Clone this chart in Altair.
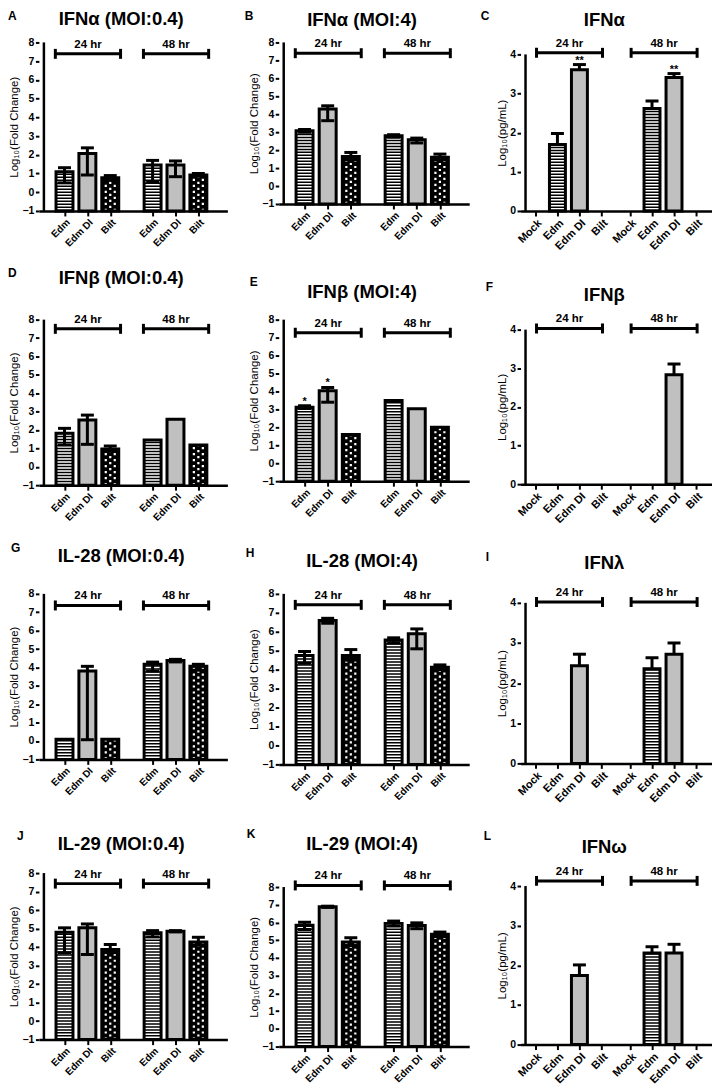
import altair as alt
import pandas as pd

FOLD_CATS = ["Edm", "Edm DI", "Bilt"]
PG_CATS = ["Mock", "Edm", "Edm DI", "Bilt"]
TIMES = ["24 hr", "48 hr"]
N = None

# values: 24 hr group then 48 hr group
A_val = [1.10, 2.07, 0.78, 1.45, 1.45, 0.92]
A_hi = [1.31, 2.37, 0.89, 1.70, 1.67, 1.00]
A_lo = [0.50, 0.92, 0.65, 0.57, 0.83, 0.85]

B_val = [3.08, 4.29, 1.65, 2.80, 2.58, 1.60]
B_hi = [3.15, 4.47, 1.87, 2.86, 2.67, 1.78]
B_lo = [3.00, 3.64, 1.45, 2.72, 2.40, 1.45]

C_val = [0, 1.70, 3.61, 0, 0, 2.62, 3.41, 0]
C_hi = [N, 1.98, 3.74, N, N, 2.81, 3.51, N]
C_star = ["", "", "**", "", "", "", "**", ""]

D_val = [1.82, 2.54, 0.97, 1.46, 2.58, 1.19]
D_hi = [2.09, 2.81, 1.13, N, N, N]
D_lo = [1.19, 1.22, 0.85, N, N, N]

E_val = [3.12, 4.04, 1.60, 3.49, 3.03, 2.01]
E_hi = [3.20, 4.22, N, N, N, N]
E_lo = [3.05, 3.40, N, N, N, N]
E_star = ["*", "*", "", "", "", ""]

F_val = [0, 0, 0, 0, 0, 0, 2.83, 0]
F_hi = [N, N, N, N, N, N, 3.11, N]

G_val = [0.09, 3.80, 0.09, 4.17, 4.38, 4.06]
G_hi = [N, 4.06, N, 4.29, 4.44, 4.17]
G_lo = [N, 0.07, N, 3.80, 4.30, 3.85]

H_val = [4.75, 6.59, 4.75, 5.57, 5.89, 4.13]
H_hi = [4.96, 6.71, 5.06, 5.68, 6.15, 4.25]
H_lo = [4.34, 6.45, 4.50, 5.40, 5.10, 4.00]

I_val = [0, 0, 2.43, 0, 0, 2.36, 2.72, 0]
I_hi = [N, N, 2.72, N, N, 2.63, 3.00, N]

J_val = [4.80, 5.04, 3.87, 4.77, 4.86, 4.28]
J_hi = [5.04, 5.25, 4.14, 4.89, 4.89, 4.53]
J_lo = [3.69, 3.60, 3.70, 4.55, 4.82, 4.10]

K_val = [5.85, 6.89, 4.90, 5.95, 5.83, 5.33]
K_hi = [6.02, 6.92, 5.14, 6.08, 5.98, 5.46]
K_lo = [5.60, 6.85, 4.70, 5.80, 5.65, 5.20]

L_val = [0, 0, 1.74, 0, 0, 2.31, 2.31, 0]
L_hi = [N, N, 2.01, N, N, 2.47, 2.53, N]

PANELS = [
    ("A", "IFNα (MOI:0.4)", "fold", A_val, A_hi, A_lo, None),
    ("B", "IFNα (MOI:4)", "fold", B_val, B_hi, B_lo, None),
    ("C", "IFNα", "pg", C_val, C_hi, None, C_star),
    ("D", "IFNβ (MOI:0.4)", "fold", D_val, D_hi, D_lo, None),
    ("E", "IFNβ (MOI:4)", "fold", E_val, E_hi, E_lo, E_star),
    ("F", "IFNβ", "pg", F_val, F_hi, None, None),
    ("G", "IL-28 (MOI:0.4)", "fold", G_val, G_hi, G_lo, None),
    ("H", "IL-28 (MOI:4)", "fold", H_val, H_hi, H_lo, None),
    ("I", "IFNλ", "pg", I_val, I_hi, None, None),
    ("J", "IL-29 (MOI:0.4)", "fold", J_val, J_hi, J_lo, None),
    ("K", "IL-29 (MOI:4)", "fold", K_val, K_hi, K_lo, None),
    ("L", "IFNω", "pg", L_val, L_hi, None, None),
]

# layout: height, axis-top offset(px), title top, letter dx, letter top, bracket level
GEOM = {
    "A": (169, 0, -31, -31, -32, 7.39),
    "B": (162, 0, -30, -34, -32, 7.40),
    "C": (169, 12, -30, -40, -31, 4.04),
    "D": (166, 0, -50, -31, -52, 7.50),
    "E": (162, 0, -36, -29, -43, 7.27),
    "F": (165, 10, -33, -35, -38, 4.03),
    "G": (166, 0, -46, -28, -51, 7.37),
    "H": (171, 0, -41, -33, -46, 7.42),
    "I": (170, 9, -39, -35, -42, 4.02),
    "J": (167, 0, -37, -22, -42, 7.43),
    "K": (174, 14, -37, -32, -44, 8.09),
    "L": (172, 13, -34, -37, -42, 4.13),
}
COL_W = [189, 191, 192]
FONT = "Liberation Sans, Arial, sans-serif"
DI_GRAY = "#c0c0c0"


def label_expr(pos, labels):
    expr = "''"
    for p, l in zip(pos, labels):
        expr = f"(abs(datum.value - {p}) < 0.01 ? '{l}' : {expr})"
    return expr


def make_panel(idx, letter, title, kind, val, hi, lo, star):
    h, t, ttop, ldx, ltop, br = GEOM[letter]
    w = COL_W[idx % 3]
    cats = FOLD_CATS if kind == "fold" else PG_CATS
    n = len(cats)
    if kind == "fold":
        gap, xdom, ymin, ymax, bsize, xfs = 3.85, [0.1, 7.9], -1, 8, 17, 10
        ytitle = "Log₁₀(Fold Change)"
    else:
        gap, xdom, ymin, ymax, bsize, xfs = 4.3, [0.55, 8.8], 0, 4, 16, 11
        ytitle = "Log₁₀(pg/mL)"
    pos = [i + 1 for i in range(n)] + [i + 1 + gap for i in range(n)]
    dmax = ymax + (ymax - ymin) * t / (h - t)

    recs = []
    for i, v in enumerate(val):
        recs.append(dict(
            pos=pos[i], cat=cats[i % n], val=v, base=ymin,
            hi=hi[i], lo=(lo[i] if lo else None),
            star=(star[i] if star else ""),
        ))
    df = pd.DataFrame(recs)

    xsc = alt.Scale(domain=xdom, nice=False, zero=False)
    ysc = alt.Scale(domain=[ymin, dmax], nice=False, zero=False)
    xax = alt.Axis(
        values=pos, labelExpr=label_expr(pos, [cats[i % n] for i in range(2 * n)]),
        labelAngle=-45, labelFontSize=xfs, labelFontWeight="bold", labelFont=FONT,
        labelColor="black", labelOverlap=False, labelFlush=False, labelBound=False,
        labelPadding=1, tickSize=5, tickWidth=2, tickColor="black",
        domainWidth=2.5, domainColor="black", title=None, grid=False,
    )
    yax = alt.Axis(
        values=list(range(ymin, ymax + 1)), format="d", domain=False,
        tickSize=3.5, tickWidth=2, tickColor="black",
        labelFontSize=10.5, labelFontWeight="bold", labelFont=FONT, labelColor="black",
        labelPadding=1.5, title=ytitle, titleFont=FONT, titleFontSize=11.5,
        titleFontWeight="normal", titleColor="black", titlePadding=2,
        titleY=(t + h) / 2, grid=False,
    )

    def X(f):
        return alt.X(f, type="quantitative", scale=xsc, axis=xax)

    def Y(f):
        return alt.Y(f, type="quantitative", scale=ysc, axis=yax)

    bdf = df[df.val > 0] if kind == "pg" else df
    layers = []
    layers.append(
        alt.Chart(bdf).mark_bar(size=bsize, strokeWidth=0).encode(
            x=X("pos"), y=Y("val"), y2="base",
            fill=alt.Fill("cat:N", scale=alt.Scale(
                domain=["Mock", "Edm", "Edm DI", "Bilt"],
                range=["white", "white", DI_GRAY, "black"]), legend=None),
        )
    )
    edm = bdf[bdf.cat == "Edm"]
    if len(edm):
        layers.append(
            alt.Chart(edm).mark_rule(strokeWidth=bsize, strokeDash=[1.5, 1.5], color="black")
            .encode(x=X("pos"), y=Y("base"), y2="val")
        )
    bilt = bdf[bdf.cat == "Bilt"]
    if len(bilt):
        for dx, off in [(-4.5, 0), (0, 3), (4.5, 0)]:
            layers.append(
                alt.Chart(bilt).mark_rule(strokeWidth=2.2, strokeDash=[2.2, 3.8],
                                          strokeDashOffset=off, color="white", xOffset=dx)
                .encode(x=X("pos"), y=Y("base"), y2="val")
            )
    layers.append(
        alt.Chart(bdf).mark_bar(size=bsize, fillOpacity=0, stroke="black", strokeWidth=3)
        .encode(x=X("pos"), y=Y("val"), y2="base")
    )
    e = df[df.hi.notna()].copy()
    if len(e):
        e["lo2"] = [l if (l is not None and l == l) else v for l, v in zip(e.lo, e.val)]
        layers.append(
            alt.Chart(e).mark_rule(strokeWidth=3, color="black")
            .encode(x=X("pos"), y=Y("lo2"), y2="hi")
        )
        layers.append(
            alt.Chart(e).mark_tick(orient="horizontal", size=13, thickness=3,
                                   color="black", opacity=1)
            .encode(x=X("pos"), y=Y("hi"))
        )
        le = e[e.lo.notna()]
        if len(le):
            layers.append(
                alt.Chart(le).mark_tick(orient="horizontal", size=13, thickness=3,
                                        color="black", opacity=1)
                .encode(x=X("pos"), y=Y("lo"))
            )
        se = e[e.star != ""]
        if len(se):
            layers.append(
                alt.Chart(se).mark_text(fontSize=11, fontWeight="bold", font=FONT,
                                        baseline="alphabetic", dy=-1, color="black")
                .encode(x=X("pos"), y=Y("hi"), text="star:N")
            )
    # brackets
    brs, caps = [], []
    for g in range(2):
        if kind == "fold":
            x1, x2 = pos[g * n] - 0.4, pos[g * n + n - 1] + 0.45
        else:
            x1, x2 = pos[g * n] + 0.05, pos[g * n + n - 1] + 0.05
        brs.append(dict(x1=x1, x2=x2, xm=(x1 + x2) / 2, y=br, label=TIMES[g]))
        caps += [dict(x=x1, y=br), dict(x=x2, y=br)]
    brdf = pd.DataFrame(brs)
    layers.append(
        alt.Chart(brdf).mark_rule(strokeWidth=3, color="black")
        .encode(x=X("x1"), x2="x2", y=Y("y"))
    )
    layers.append(
        alt.Chart(pd.DataFrame(caps)).mark_tick(orient="vertical", size=10, thickness=3,
                                                color="black", opacity=1)
        .encode(x=X("x"), y=Y("y"))
    )
    layers.append(
        alt.Chart(brdf).mark_text(fontSize=11.5, fontWeight="bold", font=FONT,
                                  baseline="alphabetic", dy=-6, color="black")
        .encode(x=X("xm"), y=Y("y"), text="label:N")
    )
    # y axis line
    layers.append(
        alt.Chart(pd.DataFrame({"xa": [xdom[0]], "ya": [ymin], "yb": [ymax]}))
        .mark_rule(strokeWidth=2.5, color="black")
        .encode(x=X("xa"), y=Y("ya"), y2="yb")
    )
    # panel letter and title
    layers.append(
        alt.Chart(pd.DataFrame({"t": [letter]})).mark_text(
            fontSize=12, fontWeight="bold", font=FONT, align="left", baseline="top",
            color="black")
        .encode(text="t:N", x=alt.value(ldx), y=alt.value(ltop))
    )
    layers.append(
        alt.Chart(pd.DataFrame({"t": [title]})).mark_text(
            fontSize=18.5, fontWeight="bold", font=FONT, align="center",
            baseline="top", color="black")
        .encode(text="t:N", x=alt.value(w / 2 - 12), y=alt.value(ttop - 1))
    )
    return alt.layer(*layers).properties(width=w, height=h)


charts = [make_panel(i, *p) for i, p in enumerate(PANELS)]
chart = alt.concat(
    *charts, columns=3, spacing={"row": 109, "column": 51.5}, bounds="flush", align="each"
).properties(padding={"left": 0, "top": 0, "right": 0, "bottom": 0}).configure_view(
    strokeWidth=0
).configure_axis(grid=False)

chart.save("out.html", embed_options={"renderer": "svg", "actions": False})
